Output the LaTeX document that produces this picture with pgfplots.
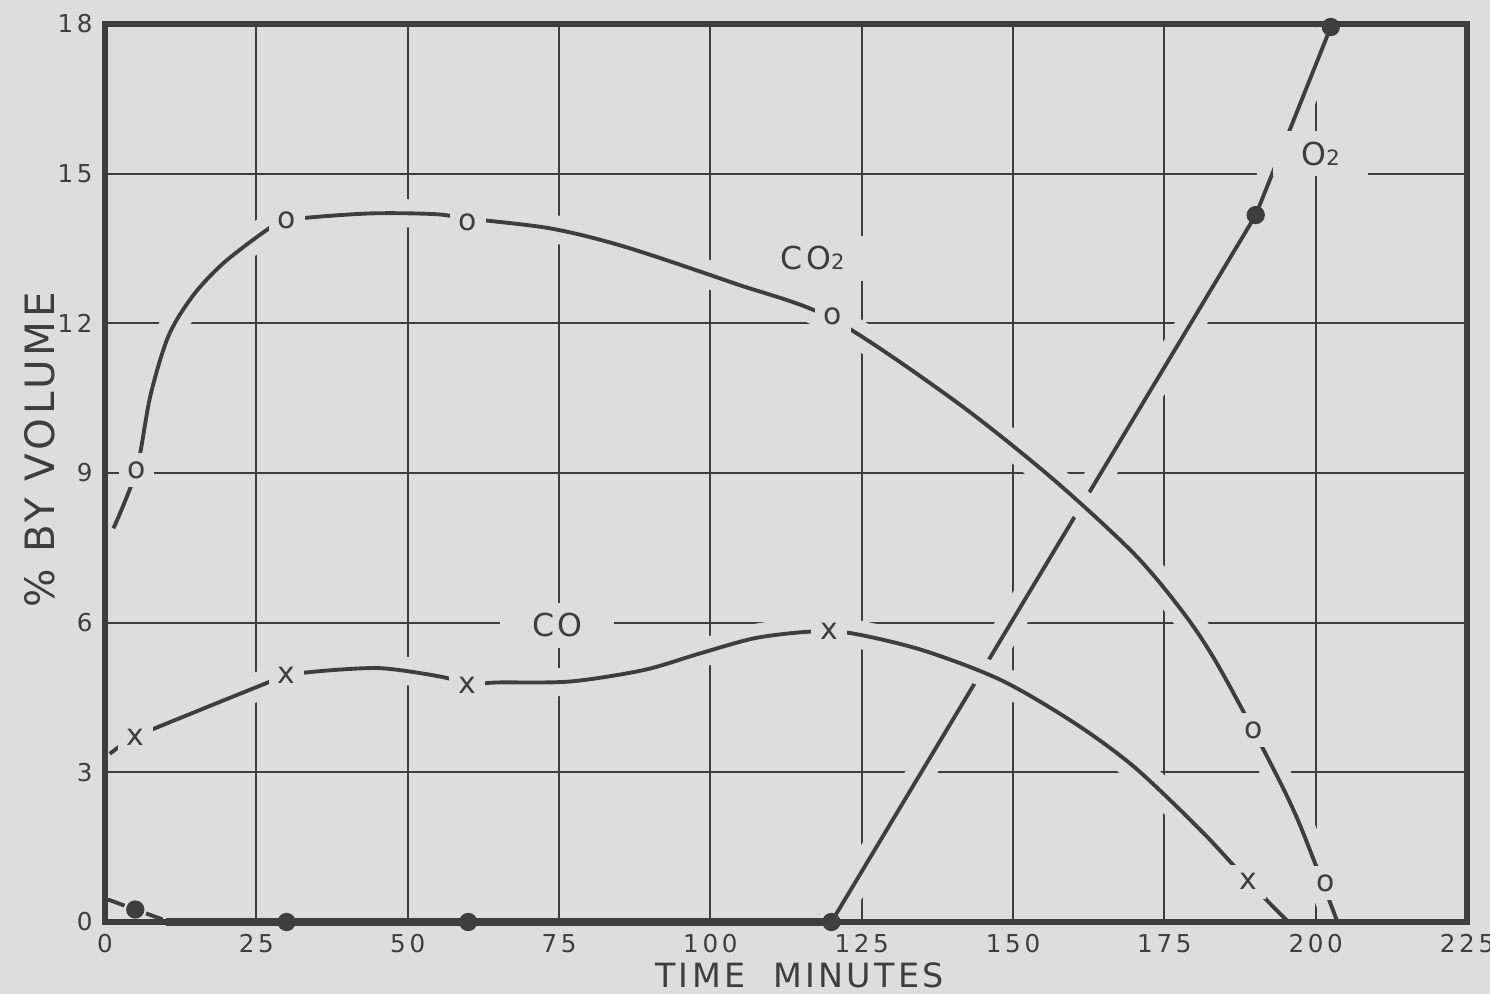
\documentclass[border=0pt]{standalone}
\usepackage{fontspec}
\setmainfont{DejaVu Sans}
\newfontfamily\spaced[LetterSpace=10]{DejaVu Sans}
\newfontfamily\tickfont[LetterSpace=15]{DejaVu Sans}
\usepackage{pgfplots}
\pgfplotsset{compat=1.18}
\usepackage{pgfplotstable}
\usetikzlibrary{backgrounds}
\definecolor{bg}{RGB}{221,221,221}
\definecolor{ink}{RGB}{62,62,62}

% CO2 curve
\pgfplotstableread{
x y
1.4 7.89
5.2 9.06
7.5 10.55
10.5 11.75
14.5 12.55
19.5 13.2
26.7 13.87
30.0 14.07
43.2 14.2
54.3 14.19
60.0 14.1
73.7 13.9
86.0 13.53
104.0 12.8
120.0 12.1
140.0 10.48
156.2 8.92
170.0 7.38
178.2 6.19
183.7 5.18
191.4 3.45
197.0 2.06
203.6 0
}\cotwo

% CO curve
\pgfplotstableread{
x y
0.8 3.37
5.0 3.71
15.7 4.25
26.7 4.79
30.0 4.95
37.7 5.05
44.9 5.09
50.4 5.02
56.5 4.89
59.8 4.75
64.5 4.80
76.8 4.82
89.0 5.05
98.2 5.38
107.4 5.69
116.5 5.82
123.2 5.79
135.0 5.45
148.0 4.85
160.0 4.0
170.0 3.11
181.0 1.84
188.9 0.81
195.5 0
}\co

\begin{document}
\begin{tikzpicture}
\begin{axis}[
  width=13.62cm, height=8.98cm, scale only axis,
  xmin=0, xmax=225, ymin=0, ymax=18,
  xtick={0,25,...,225}, ytick={0,3,...,18},
  grid=major, major grid style={ink, line width=0.6pt},
  major tick length=0pt,
  axis line style={ink, line width=1.7pt},
  tick label style={font=\tickfont\fontsize{7}{8}\selectfont, text=ink},
  /pgf/number format/assume math mode=true,
  clip=false,
  every node near coord/.append style={anchor=center, fill=bg, inner sep=2.5pt, text=ink,
    font=\fontsize{8.5}{9}\selectfont},
]
% O2
\addplot[ink, line width=2pt] coordinates {(10,0) (120,0)};
\addplot[ink, line width=1.1pt, dash pattern=on 5pt off 6.5pt] coordinates {(0.5,0.45) (5,0.25) (10,0.03)};
\addplot[ink, line width=1.1pt, preaction={draw=bg, line width=8pt}] coordinates {(120,0) (190.1,14.17) (202.5,17.94)};
% CO2
\addplot[ink, line width=1.1pt, smooth, preaction={draw=bg, line width=8pt}] table {\cotwo};
% CO
\addplot[ink, line width=1.1pt, smooth, preaction={draw=bg, line width=8pt}] table {\co};
% point markers
\addplot[draw=none, mark=none, nodes near coords={o}] coordinates {(5.2,9.06) (30,14.07) (59.9,14.03) (120.2,12.13) (189.8,3.85) (201.7,0.78)};
\addplot[draw=none, mark=none, nodes near coords={x}] coordinates {(5.0,3.71) (30,4.95) (59.8,4.75) (119.6,5.82) (188.9,0.81)};
% curve labels
\node[fill=bg, inner xsep=8pt, inner ysep=3pt, text=ink, font=\spaced\fontsize{9}{10}\selectfont] at (axis cs:116.9,13.3) {CO{\fontsize{6}{6}\selectfont 2}};
\node[fill=bg, inner xsep=9pt, inner ysep=3pt, text=ink, font=\spaced\fontsize{9}{10}\selectfont] at (axis cs:74.7,5.95) {CO};
\node[fill=bg, inner xsep=8pt, inner ysep=3pt, text=ink, font=\spaced\fontsize{9}{10}\selectfont] at (axis cs:200.8,15.4) {O{\fontsize{6}{6}\selectfont 2}};
% frame again on top
\draw[ink, line width=1.7pt] (rel axis cs:0,0) rectangle (rel axis cs:1,1);
\addplot[only marks, mark=*, mark size=2.4pt, mark options={fill=ink, draw=ink}] coordinates {(5,0.25) (30,0) (60,0) (120,0) (190.1,14.17) (202.5,17.94)};
\coordinate (sw) at (rel axis cs:0,0);
\coordinate (ne) at (rel axis cs:1,1);
\coordinate (yl) at (rel axis cs:0,0.526);
\coordinate (xl) at (rel axis cs:0.51,0);
\end{axis}
\node[rotate=90, text=ink, font=\spaced\fontsize{11.5}{13}\selectfont] at ([xshift=-0.65cm]yl) {\% BY VOLUME};
\node[text=ink, font=\spaced\fontsize{9.5}{11}\selectfont] at ([yshift=-0.53cm]xl) {TIME\ \ MINUTES};
\pgfresetboundingbox
\path ([shift={(-1.05cm,-0.72cm)}]sw) rectangle ([shift={(0.23cm,0.24cm)}]ne);
\begin{pgfonlayer}{background}
\fill[bg] ([shift={(-1.05cm,-0.72cm)}]sw) rectangle ([shift={(0.23cm,0.24cm)}]ne);
\end{pgfonlayer}
\end{tikzpicture}
\end{document}
